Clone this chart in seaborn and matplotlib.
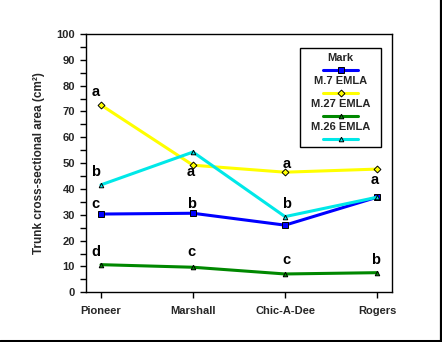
import matplotlib
matplotlib.use("Agg")
import matplotlib.pyplot as plt
import seaborn as sns
import pandas as pd
from matplotlib.lines import Line2D
from matplotlib.patches import Rectangle

# Cultivars on the x axis
cultivars = ["Pioneer", "Marshall", "Chic-A-Dee", "Rogers"]

# Trunk cross-sectional area (cm2) by rootstock
mark = [30.3, 30.6, 26.0, 36.8]
m7_emla = [72.5, 49.2, 46.5, 47.7]
m27_emla = [10.7, 9.7, 7.1, 7.6]
m26_emla = [41.6, 54.3, 29.3, 36.8]

rootstocks = ["Mark", "M.7 EMLA", "M.27 EMLA", "M.26 EMLA"]
series = [mark, m7_emla, m27_emla, m26_emla]

# Mean-separation letters and the y value they sit at
letters = {
    "Pioneer": [("a", 77.4), ("b", 46.5), ("c", 34.2), ("d", 15.5)],
    "Marshall": [("a", 46.5), ("b", 34.2), ("c", 15.5)],
    "Chic-A-Dee": [("a", 49.5), ("b", 34.2), ("c", 12.5)],
    "Rogers": [("a", 43.4), ("b", 12.5)],
}

colors = ["#0000ff", "#ffff00", "#008800", "#00e8e8"]
markers = ["s", "D", "^", "^"]
msizes = [4.5, 3.5, 3.3, 3.3]

df = pd.DataFrame({
    "cultivar": cultivars * len(rootstocks),
    "x": list(range(len(cultivars))) * len(rootstocks),
    "area": [v for s in series for v in s],
    "rootstock": [r for r in rootstocks for _ in cultivars],
})

sns.set_style("white")
plt.rcParams["font.family"] = ["Liberation Sans", "DejaVu Sans"]
plt.rcParams["font.weight"] = "bold"

fig = plt.figure(figsize=(4.42, 3.42), dpi=100)
ax = fig.add_axes([0.1946, 0.1453, 0.6923, 0.7553])

for r, c, m, ms in zip(rootstocks, colors, markers, msizes):
    sub = df[df["rootstock"] == r]
    sns.lineplot(data=sub, x="x", y="area", ax=ax, color=c, lw=2.2,
                 marker=m, markersize=ms, markeredgecolor="black",
                 markeredgewidth=0.7, markerfacecolor=c, legend=False)

dx = {"Pioneer": -0.06, "Marshall": -0.02, "Chic-A-Dee": 0.02, "Rogers": -0.02}
for i, cv in enumerate(cultivars):
    for lab, yv in letters[cv]:
        ax.text(i + dx[cv], yv, lab, ha="center", va="center",
                fontsize=10.5, fontweight="bold", color="black")

ax.set_xlim(-0.163, 3.163)
ax.set_ylim(0, 100)
ax.set_xticks(range(len(cultivars)))
ax.set_xticklabels(cultivars, fontsize=8, fontweight="bold")
ax.set_yticks(range(0, 101, 10))
ax.set_yticklabels([str(v) for v in range(0, 101, 10)], fontsize=8,
                   fontweight="bold")
ax.set_yticks(range(5, 100, 10), minor=True)
ax.tick_params(axis="both", which="both", direction="out", length=4,
               width=1, color="black", left=True, bottom=True)
ax.tick_params(axis="x", pad=6)
ax.tick_params(axis="y", pad=4)
ax.set_xlabel("")
ax.set_ylabel("Trunk cross-sectional area (cm\u00b2)", fontsize=8.5,
              fontweight="bold", labelpad=8)
for sp in ax.spines.values():
    sp.set_color("black")
    sp.set_linewidth(1)

# Legend box with each label stacked above its line sample
lx0, lx1 = (300 - 86) / 306, (381 - 86) / 306
ly0, ly1 = (292.3 - 147) / 258.3, (292.3 - 48) / 258.3
ax.add_patch(Rectangle((lx0, ly0), lx1 - lx0, ly1 - ly0, transform=ax.transAxes,
                       facecolor="white", edgecolor="black", lw=1, zorder=5))
cx = (lx0 + lx1) / 2
for k, (r, c, m, ms) in enumerate(zip(rootstocks, colors, markers, msizes)):
    ty = (292.3 - (58 + 23 * k)) / 258.3
    ly = (292.3 - (70 + 23 * k)) / 258.3
    ax.text(cx, ty, r, transform=ax.transAxes, ha="center", va="center",
            fontsize=8, fontweight="bold", zorder=6)
    ax.add_line(Line2D([cx - 0.057, cx + 0.057], [ly, ly], transform=ax.transAxes,
                       color=c, lw=2.2, zorder=6))
    ax.add_line(Line2D([cx], [ly], transform=ax.transAxes, marker=m,
                       markersize=ms, markerfacecolor=c, markeredgecolor="black",
                       markeredgewidth=0.7, lw=0, zorder=7))

# Frame shadow along the right and bottom edges
fig.add_artist(Line2D([440.5 / 442, 440.5 / 442], [0, 1], transform=fig.transFigure,
                      color="black", lw=1.6))
fig.add_artist(Line2D([0, 1], [1.3 / 342, 1.3 / 342], transform=fig.transFigure,
                      color="black", lw=2.2))

fig.savefig("out.png", dpi=100)
